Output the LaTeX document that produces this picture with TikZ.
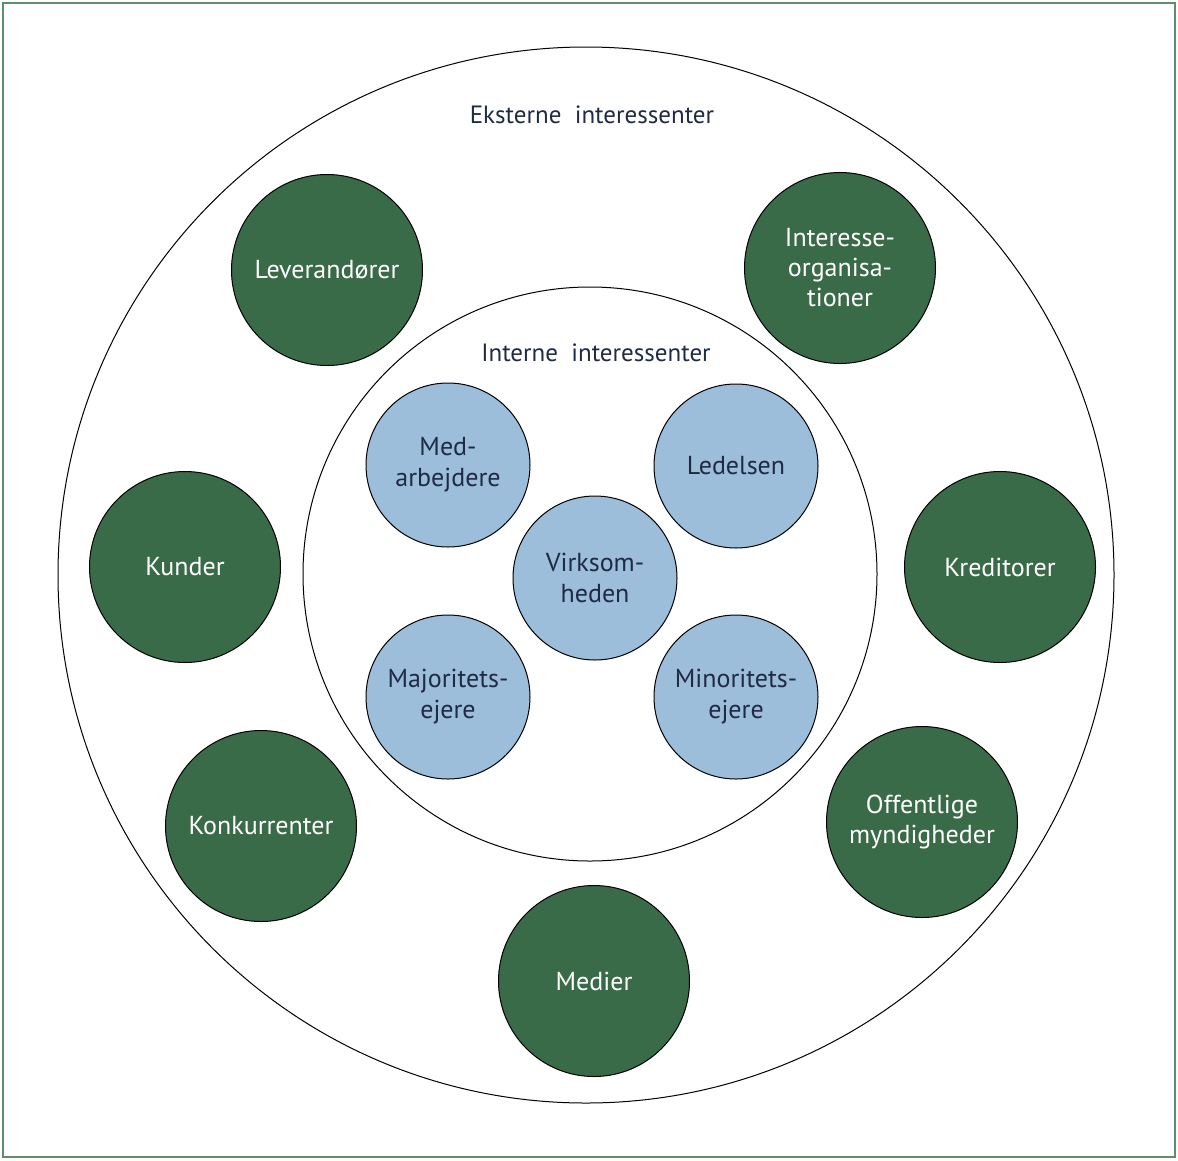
\documentclass[tikz,border=0pt]{standalone}
\usepackage{fontspec}
\setmainfont{PT Sans}
\usepackage{tikz}
\usetikzlibrary{positioning}

\definecolor{framegreen}{HTML}{5E8F6A}
\definecolor{darkgreen}{HTML}{3A6B48}
\definecolor{lightblue}{HTML}{9DBEDB}
\definecolor{navytext}{HTML}{1F2A44}

\begin{document}
\begin{tikzpicture}[x=1pt, y=-1pt]
  \tikzset{ExternStyle/.style = {shape          = circle,
                                 draw           = black,
                                 fill           = darkgreen,
                                 text           = white,
                                 line width     = 1pt,
                                 minimum size   = 191pt,
                                 align          = center,
                                 font           = \fontsize{26}{30}\selectfont}}
  \tikzset{InternStyle/.style = {shape          = circle,
                                 draw           = black,
                                 fill           = lightblue,
                                 text           = navytext,
                                 line width     = 1pt,
                                 minimum size   = 164pt,
                                 align          = center,
                                 font           = \fontsize{26}{31}\selectfont}}
  \tikzset{RingLabel/.style = {text = navytext, font = \fontsize{25}{30}\selectfont}}
  \useasboundingbox (0,0) rectangle (1178,1160);
  \draw[framegreen, line width=2.5pt] (3,3) rectangle (1175,1157);
  %%% RINGE %%%
  \node[circle, draw, line width=1pt, minimum size=1056pt](outer) at (586,575){};
  \node[circle, draw, line width=1pt, minimum size=574pt](inner) at (590,574){};
  \node[RingLabel](eksterne) at (592,115){Eksterne\ \ interessenter};
  \node[RingLabel](interne) at (596,353){Interne\ \ interessenter};
  %%% EKSTERNE %%%
  \node[ExternStyle](lev) at (327,270){Leverandører};
  \node[ExternStyle](intorg) at (840,268){Interesse-\\organisa-\\tioner};
  \node[ExternStyle](kunder) at (185,567){Kunder};
  \node[ExternStyle](kred) at (1000,567){Kreditorer};
  \node[ExternStyle](konk) at (261,826){Konkurrenter};
  \node[ExternStyle](off) at (922,822){Offentlige\\myndigheder};
  \node[ExternStyle](medier) at (594,981){Medier};
  %%% INTERNE %%%
  \node[InternStyle](medarb) at (448,465){Med-\\arbejdere};
  \node[InternStyle](ledelsen) at (736,466){Ledelsen};
  \node[InternStyle](virk) at (595,578){Virksom-\\heden};
  \node[InternStyle](majo) at (448,697){Majoritets-\\ejere};
  \node[InternStyle](mino) at (736,697){Minoritets-\\ejere};
\end{tikzpicture}
\end{document}
